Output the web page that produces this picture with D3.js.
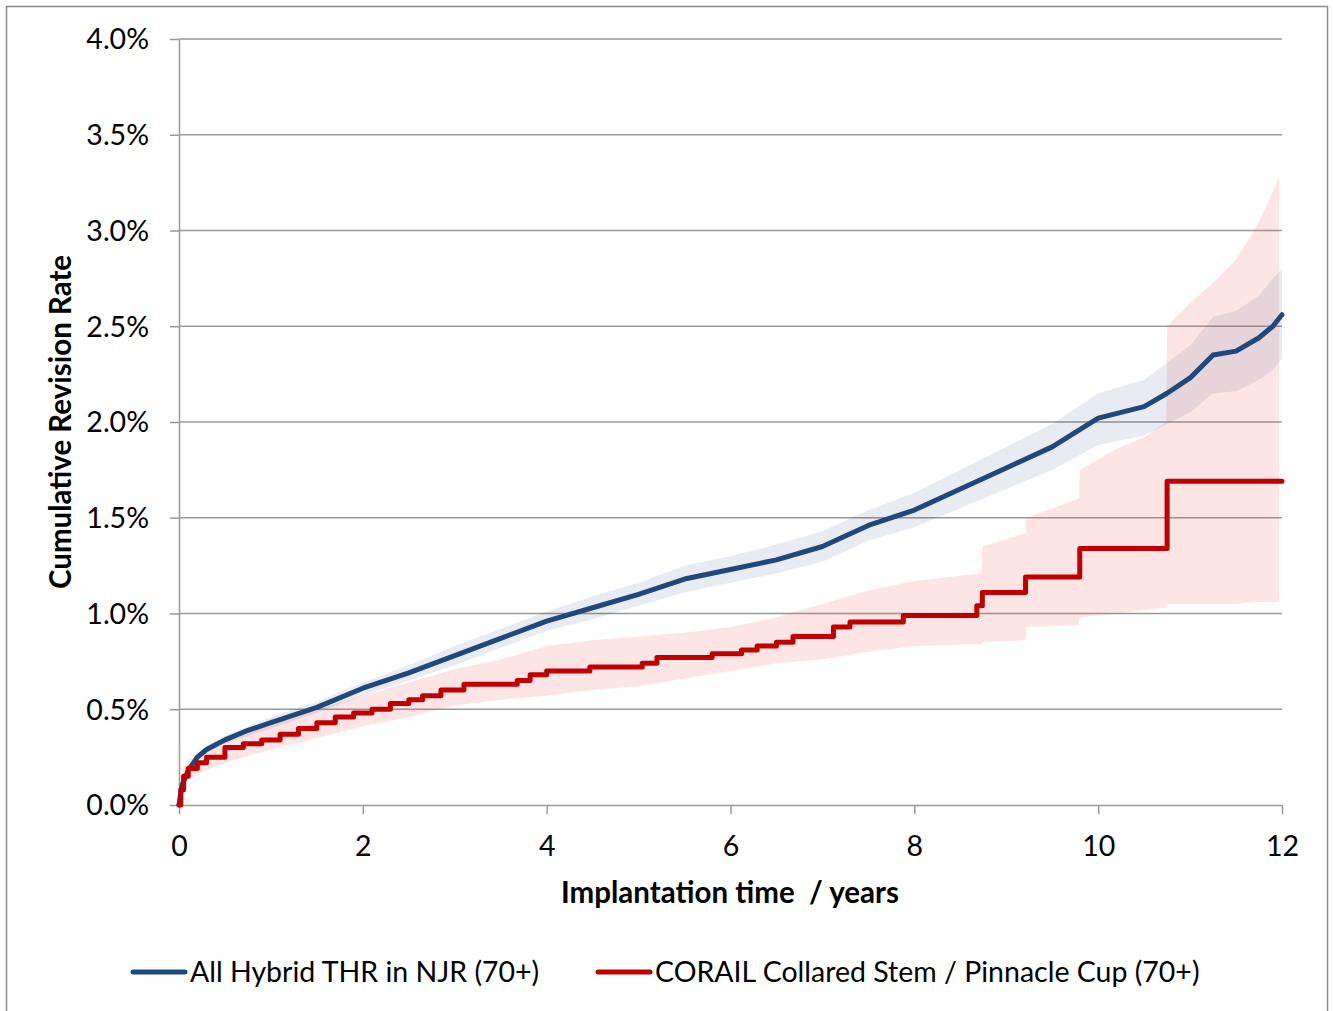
<!DOCTYPE html>
<html>
<head>
<meta charset="utf-8">
<script src="https://cdn.jsdelivr.net/npm/d3@7"></script>
<style>
  body { margin: 0; background: #fff; }
  svg text { font-family: Lato, "Open Sans", sans-serif; fill: #000; }
</style>
</head>
<body>
<div id="chart"></div>
<script>
// values, in percent
const hybridTime  = [0, 0.03, 0.1, 0.2, 0.3, 0.5, 0.75, 1.0, 1.5, 2.0, 2.5, 3.0, 3.5, 4.0, 4.5, 5.0, 5.5, 6.0, 6.5, 7.0, 7.5, 8.0, 8.5, 9.0, 9.5, 10.0, 10.5, 10.75, 11.0, 11.25, 11.5, 11.75, 11.9, 12.0]
const hybridRate  = [0, 0.10, 0.18, 0.25, 0.29, 0.34, 0.39, 0.43, 0.51, 0.61, 0.69, 0.78, 0.87, 0.96, 1.03, 1.10, 1.18, 1.23, 1.28, 1.35, 1.46, 1.54, 1.65, 1.76, 1.87, 2.02, 2.08, 2.15, 2.23, 2.35, 2.37, 2.44, 2.50, 2.56]
const hybridLower = [0, 0.08, 0.16, 0.23, 0.27, 0.32, 0.36, 0.40, 0.48, 0.57, 0.65, 0.73, 0.82, 0.91, 0.97, 1.04, 1.11, 1.16, 1.21, 1.27, 1.38, 1.45, 1.55, 1.65, 1.75, 1.88, 1.93, 1.99, 2.05, 2.15, 2.16, 2.22, 2.27, 2.33]
const hybridUpper = [0, 0.12, 0.20, 0.27, 0.31, 0.36, 0.41, 0.46, 0.54, 0.64, 0.73, 0.83, 0.92, 1.01, 1.09, 1.16, 1.25, 1.30, 1.36, 1.43, 1.54, 1.63, 1.75, 1.87, 1.99, 2.15, 2.22, 2.31, 2.40, 2.55, 2.58, 2.66, 2.75, 2.80]

const corailTime = [0, 0.02, 0.05, 0.1, 0.2, 0.3, 0.5, 0.7, 0.9, 1.1, 1.3, 1.5, 1.7, 1.9, 2.1, 2.3, 2.5, 2.65, 2.85, 3.1, 3.55, 3.68, 3.82, 4.0, 4.47, 5.04, 5.2, 5.5, 5.8, 6.12, 6.29, 6.5, 6.68, 7.12, 7.3, 7.88, 8.68, 8.74, 9.21, 9.80, 10.75, 12.0]
const corailRate = [0, 0.08, 0.15, 0.19, 0.22, 0.25, 0.30, 0.32, 0.34, 0.37, 0.40, 0.43, 0.46, 0.48, 0.50, 0.53, 0.55, 0.57, 0.60, 0.63, 0.63, 0.65, 0.68, 0.70, 0.72, 0.74, 0.77, 0.77, 0.79, 0.81, 0.83, 0.85, 0.88, 0.93, 0.955, 0.99, 1.04, 1.11, 1.19, 1.34, 1.69, 1.69]

// band: repeated times mark the vertical jumps
const corailBandTime  = [0, 0.05, 0.1, 0.2, 0.5, 1.0, 1.5, 2.0, 2.5, 3.0, 3.5, 4.0, 4.5, 5.0, 5.5, 6.0, 6.5, 7.0, 7.5, 8.0, 8.73, 8.74, 9.21, 9.22, 9.79, 9.80, 10.2, 10.5, 10.74, 10.75, 11.0, 11.3, 11.5, 11.7, 11.85, 11.97]
const corailBandLower = [0, 0.10, 0.13, 0.16, 0.22, 0.29, 0.35, 0.41, 0.46, 0.52, 0.55, 0.57, 0.60, 0.62, 0.66, 0.70, 0.74, 0.76, 0.80, 0.83, 0.84, 0.85, 0.86, 0.93, 0.94, 0.98, 1.00, 1.02, 1.03, 1.05, 1.05, 1.05, 1.05, 1.06, 1.06, 1.06]
const corailBandUpper = [0, 0.20, 0.23, 0.27, 0.34, 0.42, 0.50, 0.57, 0.64, 0.71, 0.76, 0.83, 0.86, 0.88, 0.90, 0.93, 0.98, 1.05, 1.12, 1.17, 1.21, 1.35, 1.42, 1.50, 1.60, 1.75, 1.86, 1.92, 2.00, 2.50, 2.62, 2.75, 2.85, 3.00, 3.15, 3.28]

const yTicks = [0, 0.5, 1.0, 1.5, 2.0, 2.5, 3.0, 3.5, 4.0]
const xTicks = [0, 2, 4, 6, 8, 10, 12]
const seriesNames = ['All Hybrid THR in NJR (70+)', 'CORAIL Collared Stem / Pinnacle Cup (70+)']

const width = 1333, height = 1011
const plotLeft = 179, plotRight = 1282, plotTop = 39, plotBottom = 805
const blue = '#1f497d', red = '#c00000', gridCol = '#999'
const fontSize = '28.5px', titleSize = '29.5px'

const svg = d3.select('#chart').append('svg')
    .attr('width', width)
    .attr('height', height)

// outer frame
svg.append('rect')
    .attr('x', 6.5).attr('y', 6.5)
    .attr('width', 1321).attr('height', 1020)
    .attr('fill', 'none').attr('stroke', '#8c8c8c').attr('stroke-width', 1.5)

const x = d3.scaleLinear().domain([0, 12]).range([plotLeft, plotRight])
const y = d3.scaleLinear().domain([0, 4]).range([plotBottom, plotTop])

// gridlines
svg.append('g').selectAll('line')
    .data(yTicks.filter(d => d > 0))
    .enter().append('line')
    .attr('x1', plotLeft).attr('x2', plotRight)
    .attr('y1', d => y(d)).attr('y2', d => y(d))
    .attr('stroke', gridCol).attr('stroke-width', 1.5)

const toRows = (ts, a, b) => ts.map((t, i) => ({t: t, lo: a[i], hi: b[i]}))

// confidence bands
svg.append('path')
    .datum(toRows(corailBandTime, corailBandLower, corailBandUpper))
    .attr('d', d3.area().x(d => x(d.t)).y0(d => y(d.lo)).y1(d => y(d.hi)))
    .attr('fill', 'rgb(240,80,80)').attr('fill-opacity', 0.15)

svg.append('path')
    .datum(toRows(hybridTime, hybridLower, hybridUpper))
    .attr('d', d3.area().x(d => x(d.t)).y0(d => y(d.lo)).y1(d => y(d.hi)))
    .attr('fill', 'rgb(31,73,125)').attr('fill-opacity', 0.1)

// axes
const yAxis = svg.append('g')
    .attr('transform', `translate(${plotLeft},0)`)
    .call(d3.axisLeft(y).tickValues(yTicks).tickSize(9).tickSizeOuter(0).tickPadding(21)
        .tickFormat(d => d.toFixed(1) + '%'))
yAxis.selectAll('line, path').attr('stroke', gridCol).attr('stroke-width', 1.5)
yAxis.selectAll('text').style('font-size', fontSize).attr('dy', '0.35em')

const xAxis = svg.append('g')
    .attr('transform', `translate(0,${plotBottom})`)
    .call(d3.axisBottom(x).tickValues(xTicks).tickSize(9).tickSizeOuter(0).tickPadding(22))
xAxis.selectAll('line, path').attr('stroke', gridCol).attr('stroke-width', 1.5)
xAxis.selectAll('text').style('font-size', fontSize)

// lines
svg.append('path')
    .datum(hybridTime.map((t, i) => [t, hybridRate[i]]))
    .attr('d', d3.line().x(d => x(d[0])).y(d => y(d[1])))
    .attr('fill', 'none').attr('stroke', blue).attr('stroke-width', 5)
    .attr('stroke-linejoin', 'round').attr('stroke-linecap', 'round')

svg.append('path')
    .datum(corailTime.map((t, i) => [t, corailRate[i]]))
    .attr('d', d3.line().curve(d3.curveStepAfter).x(d => x(d[0])).y(d => y(d[1])))
    .attr('fill', 'none').attr('stroke', red).attr('stroke-width', 5)
    .attr('stroke-linejoin', 'round').attr('stroke-linecap', 'round')

// axis titles
svg.append('text')
    .attr('x', 730).attr('y', 903)
    .attr('text-anchor', 'middle')
    .style('font-size', titleSize).style('font-weight', 'bold')
    .text('Implantation time\u00a0 / years')

svg.append('text')
    .attr('transform', `translate(71,${422}) rotate(-90)`)
    .attr('text-anchor', 'middle')
    .style('font-size', titleSize).style('font-weight', 'bold')
    .text('Cumulative Revision Rate')

// legend
const legend = svg.append('g')
const legendItems = [
    {name: seriesNames[0], color: blue, x0: 133},
    {name: seriesNames[1], color: red, x0: 598}
]
legendItems.forEach(d => {
    legend.append('line')
        .attr('x1', d.x0).attr('x2', d.x0 + 52)
        .attr('y1', 972).attr('y2', 972)
        .attr('stroke', d.color).attr('stroke-width', 5).attr('stroke-linecap', 'round')
    legend.append('text')
        .attr('x', d.x0 + 57).attr('y', 982)
        .style('font-size', fontSize)
        .text(d.name)
})
</script>
</body>
</html>
